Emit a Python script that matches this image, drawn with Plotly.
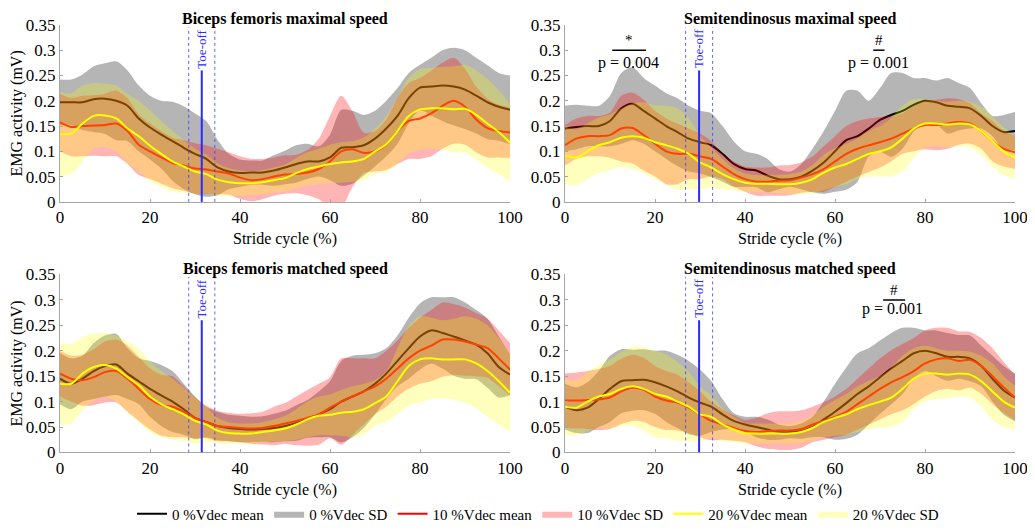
import plotly.graph_objects as go
from plotly.subplots import make_subplots

# ── Data: mean and SD per condition, sampled every 2.5 % of the stride cycle ──
X = [i * 2.5 for i in range(41)]

# Biceps femoris, maximal speed
BFMAX_M0 = [0.197,0.197,0.197,0.203,0.204,0.200,0.190,0.165,0.147,0.133,0.120,0.107,0.095,0.085,0.068,0.060,0.057,0.058,0.058,0.062,0.068,0.075,0.080,0.080,0.088,0.107,0.108,0.112,0.125,0.145,0.170,0.205,0.226,0.228,0.230,0.228,0.222,0.210,0.197,0.188,0.182]
BFMAX_SD0 = [0.045,0.045,0.055,0.065,0.070,0.078,0.070,0.065,0.063,0.067,0.078,0.082,0.080,0.075,0.055,0.035,0.027,0.024,0.024,0.030,0.033,0.037,0.035,0.030,0.045,0.075,0.072,0.060,0.055,0.055,0.055,0.050,0.045,0.057,0.070,0.077,0.078,0.075,0.073,0.067,0.068]
BFMAX_M10 = [0.157,0.148,0.150,0.151,0.152,0.155,0.140,0.113,0.100,0.088,0.077,0.072,0.066,0.064,0.060,0.056,0.048,0.043,0.045,0.050,0.054,0.055,0.058,0.065,0.080,0.100,0.104,0.097,0.100,0.113,0.140,0.160,0.165,0.175,0.190,0.200,0.188,0.163,0.146,0.140,0.137]
BFMAX_SD10 = [0.057,0.058,0.060,0.060,0.062,0.065,0.065,0.060,0.055,0.052,0.050,0.050,0.050,0.048,0.045,0.042,0.042,0.042,0.040,0.038,0.038,0.038,0.045,0.060,0.090,0.110,0.075,0.040,0.040,0.050,0.065,0.075,0.080,0.085,0.085,0.085,0.075,0.065,0.058,0.052,0.050]
BFMAX_M20 = [0.134,0.135,0.155,0.170,0.171,0.165,0.145,0.130,0.111,0.095,0.080,0.070,0.060,0.055,0.044,0.039,0.037,0.037,0.039,0.043,0.047,0.057,0.065,0.070,0.075,0.078,0.080,0.085,0.100,0.114,0.140,0.170,0.183,0.185,0.185,0.183,0.184,0.172,0.155,0.138,0.117]
BFMAX_SD20 = [0.083,0.080,0.075,0.065,0.063,0.065,0.068,0.070,0.070,0.065,0.060,0.052,0.045,0.038,0.032,0.028,0.025,0.024,0.024,0.025,0.027,0.030,0.033,0.035,0.038,0.040,0.040,0.042,0.045,0.055,0.065,0.075,0.080,0.080,0.082,0.085,0.087,0.088,0.088,0.083,0.077]

# Semitendinosus, maximal speed
STMAX_M0 = [0.145,0.148,0.150,0.150,0.160,0.185,0.194,0.180,0.165,0.150,0.138,0.125,0.118,0.112,0.095,0.075,0.065,0.062,0.052,0.045,0.045,0.050,0.062,0.078,0.100,0.122,0.130,0.145,0.162,0.172,0.180,0.192,0.200,0.197,0.190,0.188,0.185,0.170,0.150,0.138,0.140]
STMAX_SD0 = [0.045,0.044,0.040,0.040,0.050,0.070,0.072,0.065,0.065,0.065,0.067,0.065,0.062,0.063,0.055,0.045,0.035,0.033,0.033,0.020,0.015,0.025,0.043,0.062,0.080,0.098,0.090,0.055,0.063,0.083,0.075,0.053,0.045,0.043,0.055,0.047,0.040,0.025,0.020,0.034,0.038]
STMAX_M10 = [0.112,0.125,0.130,0.130,0.132,0.145,0.146,0.132,0.115,0.100,0.095,0.095,0.090,0.085,0.070,0.055,0.045,0.040,0.040,0.042,0.043,0.048,0.055,0.065,0.080,0.095,0.105,0.112,0.118,0.125,0.135,0.145,0.152,0.152,0.155,0.158,0.155,0.140,0.120,0.105,0.098]
STMAX_SD10 = [0.040,0.040,0.040,0.040,0.045,0.065,0.070,0.070,0.065,0.065,0.060,0.050,0.045,0.035,0.025,0.025,0.025,0.028,0.028,0.030,0.030,0.030,0.035,0.045,0.050,0.055,0.055,0.053,0.050,0.045,0.040,0.045,0.048,0.050,0.050,0.045,0.040,0.035,0.040,0.035,0.033]
STMAX_M20 = [0.092,0.088,0.100,0.112,0.118,0.127,0.130,0.127,0.118,0.112,0.105,0.095,0.078,0.068,0.055,0.045,0.038,0.036,0.036,0.035,0.035,0.038,0.045,0.058,0.068,0.075,0.085,0.095,0.100,0.108,0.125,0.145,0.155,0.155,0.153,0.155,0.153,0.140,0.120,0.100,0.088]
STMAX_SD20 = [0.057,0.055,0.055,0.055,0.055,0.058,0.065,0.070,0.073,0.078,0.080,0.070,0.053,0.040,0.030,0.022,0.018,0.017,0.017,0.018,0.020,0.022,0.028,0.035,0.038,0.040,0.040,0.045,0.050,0.058,0.065,0.058,0.048,0.045,0.045,0.045,0.045,0.048,0.050,0.047,0.043]

# Biceps femoris, matched speed
BFMAT_M0 = [0.145,0.135,0.145,0.160,0.170,0.173,0.155,0.140,0.125,0.112,0.100,0.085,0.068,0.060,0.052,0.048,0.046,0.045,0.046,0.048,0.052,0.058,0.066,0.075,0.085,0.100,0.110,0.120,0.135,0.155,0.180,0.205,0.228,0.240,0.235,0.228,0.220,0.212,0.195,0.168,0.153]
BFMAT_SD0 = [0.050,0.050,0.045,0.055,0.060,0.060,0.050,0.045,0.055,0.060,0.060,0.050,0.042,0.030,0.028,0.026,0.026,0.025,0.025,0.028,0.030,0.035,0.037,0.045,0.055,0.080,0.080,0.072,0.060,0.050,0.050,0.060,0.065,0.065,0.070,0.077,0.075,0.068,0.068,0.060,0.040]
BFMAT_M10 = [0.155,0.145,0.142,0.148,0.158,0.160,0.145,0.125,0.105,0.093,0.090,0.080,0.068,0.060,0.052,0.050,0.048,0.047,0.048,0.052,0.057,0.062,0.068,0.075,0.088,0.100,0.110,0.120,0.130,0.145,0.165,0.185,0.200,0.210,0.222,0.222,0.218,0.212,0.205,0.185,0.163]
BFMAT_SD10 = [0.045,0.045,0.050,0.055,0.060,0.062,0.065,0.063,0.060,0.060,0.060,0.050,0.040,0.032,0.030,0.028,0.028,0.030,0.032,0.038,0.040,0.048,0.055,0.060,0.060,0.085,0.075,0.065,0.055,0.055,0.055,0.060,0.065,0.070,0.073,0.070,0.067,0.062,0.058,0.055,0.052]
BFMAT_M20 = [0.135,0.135,0.155,0.168,0.172,0.165,0.148,0.132,0.110,0.095,0.085,0.075,0.062,0.055,0.043,0.038,0.037,0.037,0.040,0.043,0.047,0.055,0.065,0.072,0.074,0.078,0.080,0.085,0.097,0.110,0.140,0.170,0.183,0.185,0.183,0.183,0.183,0.175,0.160,0.140,0.117]
BFMAT_SD20 = [0.080,0.078,0.072,0.066,0.063,0.065,0.070,0.072,0.070,0.065,0.060,0.052,0.045,0.035,0.025,0.021,0.020,0.020,0.020,0.022,0.025,0.030,0.035,0.038,0.040,0.045,0.050,0.050,0.045,0.050,0.065,0.078,0.085,0.080,0.077,0.080,0.085,0.088,0.090,0.085,0.077]

# Semitendinosus, matched speed
STMAT_M0 = [0.090,0.083,0.088,0.105,0.125,0.140,0.142,0.143,0.138,0.130,0.120,0.108,0.098,0.090,0.075,0.062,0.055,0.050,0.045,0.040,0.040,0.042,0.050,0.065,0.080,0.097,0.115,0.130,0.148,0.165,0.180,0.195,0.200,0.195,0.188,0.188,0.185,0.170,0.145,0.122,0.108]
STMAT_SD0 = [0.045,0.045,0.050,0.055,0.065,0.063,0.060,0.060,0.062,0.070,0.072,0.072,0.065,0.050,0.030,0.015,0.015,0.020,0.020,0.015,0.012,0.015,0.020,0.035,0.055,0.070,0.080,0.075,0.072,0.070,0.065,0.050,0.040,0.045,0.047,0.043,0.045,0.040,0.045,0.048,0.047]
STMAT_M10 = [0.102,0.102,0.103,0.104,0.108,0.120,0.127,0.123,0.110,0.102,0.098,0.088,0.075,0.062,0.055,0.048,0.042,0.040,0.042,0.043,0.043,0.046,0.055,0.062,0.070,0.080,0.095,0.110,0.125,0.138,0.148,0.160,0.175,0.183,0.185,0.180,0.182,0.170,0.150,0.128,0.108]
STMAT_SD10 = [0.053,0.055,0.057,0.060,0.062,0.064,0.065,0.063,0.060,0.058,0.055,0.050,0.045,0.038,0.030,0.025,0.022,0.028,0.035,0.038,0.038,0.037,0.035,0.037,0.040,0.045,0.050,0.055,0.060,0.063,0.065,0.065,0.065,0.062,0.060,0.058,0.055,0.055,0.055,0.050,0.045]
STMAT_M20 = [0.090,0.088,0.100,0.110,0.115,0.125,0.130,0.125,0.115,0.110,0.100,0.090,0.075,0.070,0.055,0.045,0.038,0.037,0.037,0.037,0.037,0.040,0.048,0.060,0.068,0.075,0.085,0.093,0.100,0.108,0.125,0.145,0.155,0.155,0.153,0.155,0.153,0.140,0.120,0.100,0.088]
STMAT_SD20 = [0.055,0.055,0.058,0.062,0.068,0.073,0.078,0.082,0.085,0.082,0.078,0.068,0.055,0.042,0.032,0.025,0.020,0.020,0.020,0.020,0.020,0.022,0.025,0.030,0.035,0.040,0.045,0.048,0.050,0.058,0.065,0.060,0.055,0.050,0.047,0.045,0.045,0.050,0.055,0.050,0.043]

# Toe-off: mean and SD (% of stride cycle), height of the marker line (mV)
BF_TOE = (31.5, 2.9)
ST_TOE = (29.8, 3.0)
TOE_TOP = 0.26

# Significance marks: panel, symbol, bar start, bar end, label
SIG_PANEL = [1, 1, 3]
SIG_SYMBOL = ["*", "#", "#"]
SIG_X0 = [10.5, 68.5, 70.7]
SIG_X1 = [18.0, 71.0, 75.6]
SIG_LABEL = ["p = 0.004", "p = 0.001", "p = 0.001"]
SIG_LABEL_X = [14.1, 69.6, 72.8]
SIG_LABEL_Y = [0.275, 0.275, 0.282]
SIG_BAR_Y = 0.30

X_TICKS = [0, 20, 40, 60, 80, 100]
Y_TICKS = [0, 0.05, 0.1, 0.15, 0.2, 0.25, 0.3, 0.35]
Y_TICKTEXT = ["0", "0.05", "0.1", "0.15", "0.2", "0.25", "0.3", "0.35"]

GROUPS = ["0 %Vdec", "10 %Vdec", "20 %Vdec"]
LINE_COLORS = ["#000000", "#ff0000", "#ffff00"]
FILL_COLORS = ["rgba(128,128,128,0.58)", "rgba(255,0,0,0.29)", "rgba(255,255,0,0.26)"]

PANELS = [
    dict(title="Biceps femoris maximal speed", row=1, col=1, toe=BF_TOE,
         means=[BFMAX_M0, BFMAX_M10, BFMAX_M20], sds=[BFMAX_SD0, BFMAX_SD10, BFMAX_SD20]),
    dict(title="Semitendinosus maximal speed", row=1, col=2, toe=ST_TOE,
         means=[STMAX_M0, STMAX_M10, STMAX_M20], sds=[STMAX_SD0, STMAX_SD10, STMAX_SD20]),
    dict(title="Biceps femoris matched speed", row=2, col=1, toe=BF_TOE,
         means=[BFMAT_M0, BFMAT_M10, BFMAT_M20], sds=[BFMAT_SD0, BFMAT_SD10, BFMAT_SD20]),
    dict(title="Semitendinosus matched speed", row=2, col=2, toe=ST_TOE,
         means=[STMAT_M0, STMAT_M10, STMAT_M20], sds=[STMAT_SD0, STMAT_SD10, STMAT_SD20]),
]

# ── Layout geometry ───────────────────────────────────────────────────────────
# the page body has an 8 px margin, so the figure is shrunk and shifted by it
OFF = 8
W, H = 1035 - OFF, 531 - OFF

def px(v):
    return (v - OFF) / W

def py(v):
    return 1 - (v - OFF) / H

X_DOM = [[px(60), px(510)], [px(565), px(1015)]]
Y_DOM = [[py(203), py(25)], [py(455), py(276)]]
TITLE_Y = [1.0, py(259)]
FONT = "Liberation Serif, Times New Roman, serif"
AXIS_GREY = "#a6a6a6"
TOE_BLUE = "#2a2aff"

fig = make_subplots(rows=2, cols=2)

for pi, p in enumerate(PANELS):
    for g in range(3):
        m, s = p["means"][g], p["sds"][g]
        lo = [a - b for a, b in zip(m, s)]
        hi = [a + b for a, b in zip(m, s)]
        fig.add_trace(go.Scatter(
            x=X, y=lo, mode="lines", line=dict(width=0, shape="spline", smoothing=0.8),
            showlegend=False, hoverinfo="skip"), row=p["row"], col=p["col"])
        fig.add_trace(go.Scatter(
            x=X, y=hi, mode="lines", fill="tonexty", fillcolor=FILL_COLORS[g],
            line=dict(width=0, shape="spline", smoothing=0.8),
            name=f"{GROUPS[g]} SD", showlegend=(pi == 0), legendrank=2 * g + 2,
            hoverinfo="skip"), row=p["row"], col=p["col"])
        fig.add_trace(go.Scatter(
            x=X, y=m, mode="lines", line=dict(color=LINE_COLORS[g], width=2, shape="spline", smoothing=0.8),
            name=f"{GROUPS[g]} mean", showlegend=(pi == 0), legendrank=2 * g + 1),
            row=p["row"], col=p["col"])

annotations = []
shapes = []
for pi, p in enumerate(PANELS):
    r, c = p["row"] - 1, p["col"] - 1
    suffix = "" if pi == 0 else str(pi + 1)
    xa, ya = "xaxis" + suffix, "yaxis" + suffix
    fig.layout[xa].update(
        domain=X_DOM[c], range=[0, 100], tickvals=X_TICKS, showgrid=False, zeroline=False,
        showline=True, linecolor=AXIS_GREY, linewidth=1, ticks="inside", ticklen=3,
        tickcolor=AXIS_GREY, automargin=False, tickfont=dict(size=17),
        title=dict(text="Stride cycle (%)", standoff=6, font=dict(size=16)))
    fig.layout[ya].update(
        domain=Y_DOM[r], range=[0, 0.35], tickvals=Y_TICKS, ticktext=Y_TICKTEXT,
        showgrid=False, zeroline=False, showline=True, linecolor=AXIS_GREY, linewidth=1,
        ticks="inside", ticklen=3, tickcolor=AXIS_GREY, automargin=False,
        tickfont=dict(size=17),
        title=dict(text="EMG activity (mV)" if c == 0 else "", standoff=2, font=dict(size=16)))

    # panel title
    annotations.append(dict(
        text=f"<b>{p['title']}</b>", xref="paper", yref="paper",
        x=sum(X_DOM[c]) / 2, xanchor="center", y=TITLE_Y[r], yanchor="top",
        showarrow=False, font=dict(size=16)))

    # toe-off markers
    xr, yr = "x" + suffix, "y" + suffix
    t_mean, t_sd = p["toe"]
    shapes.append(dict(type="line", xref=xr, yref=yr, x0=t_mean, x1=t_mean, y0=0, y1=TOE_TOP,
                       line=dict(color=TOE_BLUE, width=2)))
    for tx in (t_mean - t_sd, t_mean + t_sd):
        shapes.append(dict(type="line", xref=xr, yref=yr, x0=tx, x1=tx, y0=0, y1=0.345,
                           line=dict(color="rgba(60,60,255,0.8)", width=1, dash="dot")))
    annotations.append(dict(
        text="Toe-off", xref=xr, yref=yr, x=t_mean, y=TOE_TOP, yanchor="bottom",
        textangle=-90, showarrow=False, font=dict(size=13, color=TOE_BLUE)))

# significance bars
for i in range(len(SIG_PANEL)):
    suffix = str(SIG_PANEL[i] + 1)
    xr, yr = "x" + suffix, "y" + suffix
    shapes.append(dict(type="line", xref=xr, yref=yr, x0=SIG_X0[i], x1=SIG_X1[i],
                       y0=SIG_BAR_Y, y1=SIG_BAR_Y, line=dict(color="black", width=1.5)))
    annotations.append(dict(text=SIG_SYMBOL[i], xref=xr, yref=yr,
                            x=(SIG_X0[i] + SIG_X1[i]) / 2, y=SIG_BAR_Y, yanchor="bottom",
                            showarrow=False, font=dict(size=15)))
    annotations.append(dict(text=SIG_LABEL[i], xref=xr, yref=yr,
                            x=SIG_LABEL_X[i], y=SIG_LABEL_Y[i], yanchor="middle",
                            showarrow=False, font=dict(size=16)))

fig.update_layout(
    template="none",
    width=W, height=H,
    margin=dict(l=0, r=0, t=0, b=0),
    plot_bgcolor="white", paper_bgcolor="white",
    font=dict(family=FONT, size=15, color="black"),
    showlegend=True,
    legend=dict(orientation="h", x=px(538), xanchor="center", y=py(517), yanchor="middle",
                font=dict(size=15), traceorder="normal", tracegroupgap=0,
                bgcolor="rgba(0,0,0,0)"),
    annotations=annotations,
    shapes=shapes,
)

fig.write_html("out.html")
